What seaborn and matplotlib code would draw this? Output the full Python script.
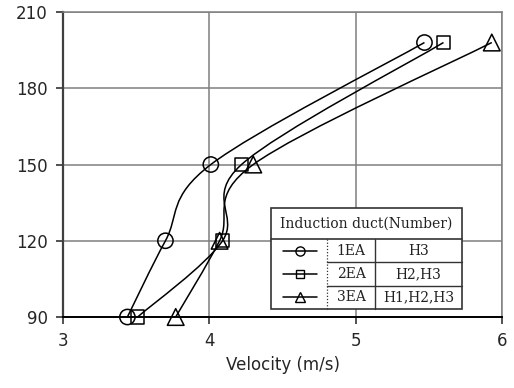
import numpy as np
import pandas as pd
import matplotlib
matplotlib.use("Agg")
import matplotlib.pyplot as plt
from matplotlib.path import Path
from matplotlib.patches import PathPatch, Rectangle
from matplotlib.lines import Line2D
import seaborn as sns

# ---- data ----
height = [90, 120, 150, 198]
v_1ea = [3.44, 3.70, 4.01, 5.47]
v_2ea = [3.51, 4.09, 4.22, 5.60]
v_3ea = [3.77, 4.07, 4.30, 5.93]
series_names = ["1EA", "2EA", "3EA"]
series_ducts = ["H3", "H2,H3", "H1,H2,H3"]
legend_title = "Induction duct(Number)"
x_ticks = [3, 4, 5, 6]
y_ticks = [90, 120, 150, 180, 210]

sns.set_theme(style="white")
plt.rcParams['font.family'] = ['DejaVu Sans']

fig = plt.figure(figsize=(5.14, 3.88), dpi=100)
ax = fig.add_axes([0.1226, 0.183, 0.8541, 0.786])

df = pd.DataFrame({
    "v": v_1ea + v_2ea + v_3ea,
    "h": height * 3,
    "s": [series_names[0]] * 4 + [series_names[1]] * 4 + [series_names[2]] * 4,
})

marker_map = {"1EA": "o", "2EA": "s", "3EA": "^"}
size_map = {"1EA": 11, "2EA": 9.5, "3EA": 12}


def smooth_path(xs, ys):
    pts = np.column_stack([xs, ys])
    n = len(pts)
    verts = [pts[0]]
    codes = [Path.MOVETO]
    for i in range(n - 1):
        p0 = pts[i - 1] if i > 0 else pts[i]
        p1 = pts[i]
        p2 = pts[i + 1]
        p3 = pts[i + 2] if i + 2 < n else pts[i + 1]
        c1 = p1 + (p2 - p0) / 6.0
        c2 = p2 - (p3 - p1) / 6.0
        verts += [c1, c2, p2]
        codes += [Path.CURVE4] * 3
    return Path(verts, codes)


for name in series_names:
    sub = df[df["s"] == name]
    ax.add_patch(PathPatch(smooth_path(sub["v"].values, sub["h"].values),
                           facecolor="none", edgecolor="black", lw=1.1, zorder=3))
    sns.scatterplot(data=sub, x="v", y="h", marker=marker_map[name],
                    s=size_map[name] ** 2, facecolors="none", edgecolor="black",
                    linewidth=1.1, ax=ax, zorder=4, legend=False)
for coll in ax.collections:
    coll.set_clip_on(False)

ax.set_xlim(3, 6)
ax.set_ylim(90, 210)
ax.set_xticks(x_ticks)
ax.set_yticks(y_ticks)
ax.set_xticklabels([str(t) for t in x_ticks], fontsize=12)
ax.set_yticklabels([str(t) for t in y_ticks], fontsize=12)
ax.set_xlabel("Velocity (m/s)", fontsize=12)
ax.set_ylabel("")
ax.grid(True, color="#7f7f7f", lw=1.1)
ax.set_axisbelow(True)
for side in ["top", "right"]:
    ax.spines[side].set_color("#7f7f7f")
    ax.spines[side].set_linewidth(1.1)
ax.spines["left"].set_color("#404040")
ax.spines["left"].set_linewidth(1.6)
ax.spines["bottom"].set_color("black")
ax.spines["bottom"].set_linewidth(1.4)
ax.tick_params(axis="both", which="major", direction="out", length=5, width=1.2,
               color="#333333", pad=6, left=True, bottom=True)
ax.xaxis.labelpad = 4

# ---- table-style legend (axes coords) ----
def ax_x(px):
    return (px - 63) / (502 - 63)

def ax_y(py):
    return (317 - py) / (317 - 12)

L, D, S, R = ax_x(271), ax_x(327), ax_x(375), ax_x(462)
T, H, r1, r2, B = ax_y(208), ax_y(239), ax_y(262), ax_y(286), ax_y(309)
tr = ax.transAxes
ec = "#333333"
ax.add_patch(Rectangle((L, B), R - L, T - B, transform=tr, facecolor="white",
                       edgecolor=ec, lw=1.2, zorder=5))
serif = ['DejaVu Serif']
ax.add_line(Line2D([L, R], [H, H], transform=tr, color=ec, lw=1.2, zorder=6))
ax.add_line(Line2D([D, R], [r1, r1], transform=tr, color=ec, lw=1.0, zorder=6))
ax.add_line(Line2D([D, R], [r2, r2], transform=tr, color=ec, lw=1.0, zorder=6))
ax.add_line(Line2D([D, D], [B, H], transform=tr, color=ec, lw=0.9, ls=(0, (1, 1.5)), zorder=6))
ax.add_line(Line2D([S, S], [B, H], transform=tr, color=ec, lw=1.0, zorder=6))
ax.text((L + R) / 2, (T + H) / 2, legend_title, transform=tr, ha="center", va="center",
        fontsize=10, family=serif, color="#222222", zorder=7)
rows = [(H, r1), (r1, r2), (r2, B)]
for (top, bot), name, duct in zip(rows, series_names, series_ducts):
    yc = (top + bot) / 2
    ax.text((D + S) / 2, yc, name, transform=tr, ha="center", va="center",
            fontsize=10, family=serif, color="#222222", zorder=7)
    ax.text((S + R) / 2, yc, duct, transform=tr, ha="center", va="center",
            fontsize=10, family=serif, color="#222222", zorder=7)
    ax.add_line(Line2D([ax_x(283), ax_x(317)], [yc, yc], transform=tr, color="black",
                       lw=1.1, zorder=7))
    ax.add_line(Line2D([ax_x(300)], [yc], transform=tr, marker=marker_map[name],
                       markersize=size_map[name] * 0.6, markerfacecolor="none",
                       markeredgecolor="black", markeredgewidth=1.0, zorder=8))

fig.savefig("out.png", dpi=100)
